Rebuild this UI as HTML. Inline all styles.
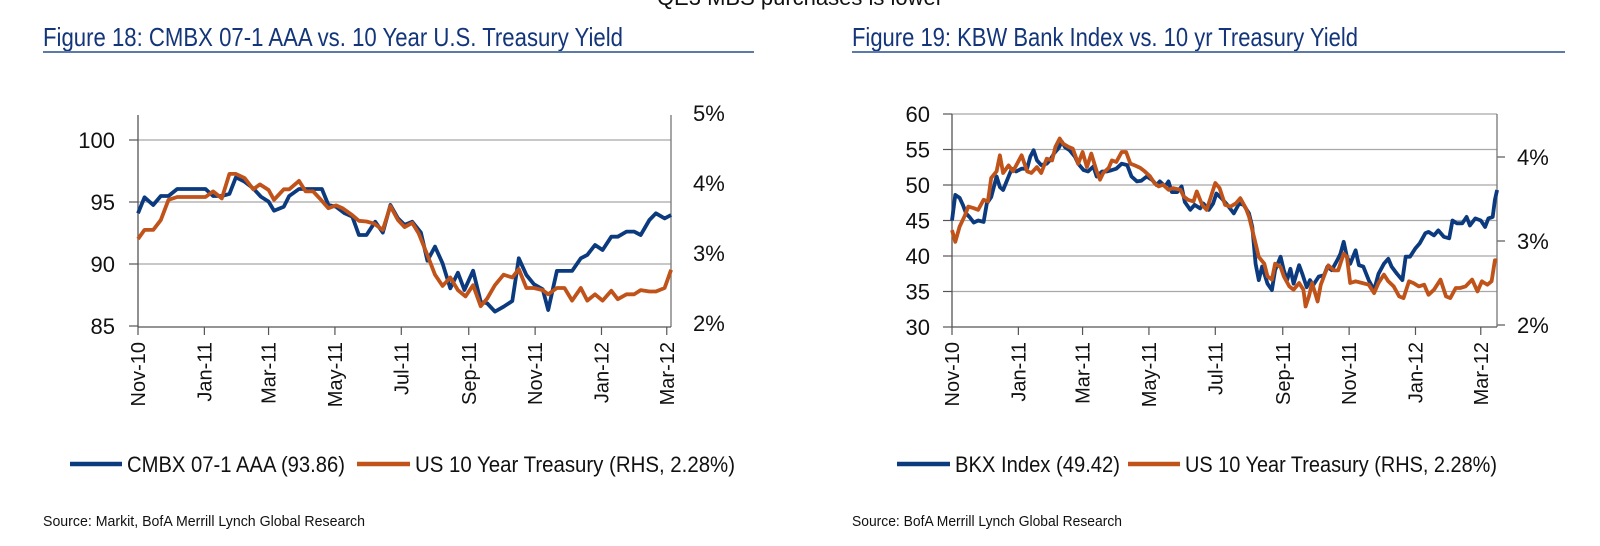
<!DOCTYPE html>
<html><head><meta charset="utf-8"><style>
html,body{margin:0;padding:0;background:#fff;}
svg{display:block;font-family:"Liberation Sans",Arial,sans-serif;}
</style></head><body>
<svg id="c" width="1600" height="546" viewBox="0 0 1600 546" xmlns="http://www.w3.org/2000/svg">
<text x="800" y="5" text-anchor="middle" font-size="22" fill="#111">QE3 MBS purchases is lower</text>
<text x="43" y="46" font-size="26" fill="#13357a" textLength="580" lengthAdjust="spacingAndGlyphs">Figure 18: CMBX 07-1 AAA vs. 10 Year U.S. Treasury Yield</text>
<line x1="43" y1="52" x2="754" y2="52" stroke="#5a7aa8" stroke-width="2"/>
<text x="852" y="46" font-size="26" fill="#13357a" textLength="506" lengthAdjust="spacingAndGlyphs">Figure 19: KBW Bank Index vs. 10 yr Treasury Yield</text>
<line x1="852" y1="52" x2="1565" y2="52" stroke="#5a7aa8" stroke-width="2"/>
<g id="left"></g>
<g id="right"></g>
<line x1="70" y1="464" x2="122" y2="464" stroke="#0b3a7e" stroke-width="4.5"/>
<text x="127" y="472" font-size="22" fill="#111" textLength="218" lengthAdjust="spacingAndGlyphs">CMBX 07-1 AAA (93.86)</text>
<line x1="357" y1="464" x2="410" y2="464" stroke="#c0531a" stroke-width="4.5"/>
<text x="415" y="472" font-size="22" fill="#111" textLength="320" lengthAdjust="spacingAndGlyphs">US 10 Year Treasury (RHS, 2.28%)</text>
<line x1="897" y1="464" x2="950" y2="464" stroke="#0b3a7e" stroke-width="4.5"/>
<text x="955" y="472" font-size="22" fill="#111" textLength="165" lengthAdjust="spacingAndGlyphs">BKX Index (49.42)</text>
<line x1="1128" y1="464" x2="1180" y2="464" stroke="#c0531a" stroke-width="4.5"/>
<text x="1185" y="472" font-size="22" fill="#111" textLength="312" lengthAdjust="spacingAndGlyphs">US 10 Year Treasury (RHS, 2.28%)</text>
<text x="43" y="526" font-size="15" fill="#111" textLength="322" lengthAdjust="spacingAndGlyphs">Source: Markit, BofA Merrill Lynch Global Research</text>
<text x="852" y="526" font-size="15" fill="#111" textLength="270" lengthAdjust="spacingAndGlyphs">Source: BofA Merrill Lynch Global Research</text>
</svg>
<script>
// ---- shared ----
const tickLabels = ["Nov-10","Jan-11","Mar-11","May-11","Jul-11","Sep-11","Nov-11","Jan-12","Mar-12"];
const tickDays = [0,61,120,181,242,304,365,426,486];
// ---- Figure 18 data (days since 1-Nov-2010) ----
const cmbxDays = [0,6,14,21,28,36,62,69,77,84,90,98,106,113,120,125,134,139,148,169,175,182,190,197,203,210,218,225,232,239,245,252,260,266,273,280,287,294,300,308,315,321,328,336,344,350,357,364,372,377,385,399,407,413,420,427,435,441,449,456,462,470,476,484,490];
const cmbxValues = [94.09,95.38,94.76,95.48,95.48,96.05,96.05,95.48,95.48,95.65,96.99,96.64,96.10,95.43,95.03,94.30,94.62,95.48,96.05,96.05,94.76,94.62,94.09,93.82,92.34,92.34,93.41,92.53,94.76,93.68,93.15,93.41,92.53,90.27,91.40,90.05,88.04,89.30,87.90,89.46,86.96,86.83,86.16,86.56,87.02,90.46,89.11,88.36,87.96,86.29,89.44,89.44,90.46,90.73,91.53,91.13,92.20,92.20,92.61,92.61,92.34,93.55,94.09,93.68,93.95];
const ust1Days = [0,6,14,21,28,36,62,69,77,84,90,98,106,112,120,125,134,139,148,154,161,167,175,182,188,197,203,210,217,225,232,239,245,252,258,266,273,280,287,294,301,308,315,321,328,336,344,350,357,364,372,377,385,392,399,407,413,420,427,435,441,449,456,462,470,476,484,490];
const ust1Values = [3.20,3.33,3.33,3.47,3.76,3.80,3.80,3.88,3.78,4.13,4.13,4.07,3.91,3.98,3.90,3.76,3.91,3.91,4.03,3.88,3.88,3.78,3.64,3.68,3.64,3.54,3.46,3.45,3.42,3.33,3.67,3.47,3.37,3.43,3.28,2.97,2.69,2.53,2.65,2.47,2.38,2.54,2.24,2.35,2.54,2.69,2.65,2.77,2.50,2.50,2.47,2.41,2.50,2.50,2.32,2.50,2.32,2.41,2.32,2.46,2.34,2.41,2.41,2.47,2.45,2.45,2.50,2.76];
const leftAxisTicks = [85,90,95,100];
const leftRhsTicks = [2,3,4,5];
// ---- Figure 19 data ----
const bkxDays = [0,3,7,10,13,16,20,24,29,32,36,41,44,47,52,55,59,64,69,72,75,78,82,87,90,94,98,101,104,108,113,116,121,125,130,133,138,142,147,151,156,161,165,170,174,179,184,188,191,196,199,202,207,211,214,219,223,228,231,236,240,243,248,253,259,264,268,273,276,279,282,285,290,294,297,302,305,308,311,314,319,322,326,329,332,337,342,345,349,354,357,360,363,366,371,374,378,383,388,392,397,401,404,409,414,417,421,426,430,435,438,443,447,452,457,460,464,469,473,476,481,486,490,493,497,499,501];
const bkxValues = [45.0,48.6,48.2,47.2,46.0,45.5,44.7,45.0,44.8,47.4,48.3,51.2,49.7,49.3,51.2,52.3,51.9,52.3,52.3,54.0,54.9,53.5,52.8,53.0,53.5,54.5,55.2,56.1,55.3,54.9,54.0,53.0,52.1,51.9,52.6,51.2,51.9,51.9,52.1,52.3,53.0,52.8,51.2,50.5,50.6,51.2,50.7,50.0,50.5,49.8,50.5,49.0,49.0,49.8,47.6,46.5,47.2,46.7,47.4,46.5,47.4,48.8,48.1,47.2,46.0,47.4,47.2,46.0,44.1,38.9,36.6,38.5,36.1,35.2,38.0,39.9,38.0,36.6,38.2,36.1,38.7,37.5,35.6,36.6,35.9,37.1,37.3,38.5,38.0,39.4,40.3,42.0,39.9,38.9,40.8,38.7,38.5,36.6,35.2,37.5,38.9,39.6,38.5,37.5,36.6,39.9,39.9,41.1,41.8,43.2,43.4,42.9,43.6,42.7,42.5,45.0,44.6,44.6,45.5,44.3,45.3,45.0,44.1,45.3,45.5,47.9,49.3];
const ust2Days = [0,3,7,12,15,20,24,29,33,36,41,44,47,52,56,59,64,69,73,78,82,87,92,95,99,102,107,111,116,120,124,128,133,136,139,144,147,151,156,160,164,168,173,177,182,186,190,194,199,203,210,213,217,222,225,230,234,237,242,246,251,256,261,265,270,273,276,279,282,287,290,294,297,302,305,310,314,319,323,325,328,331,336,339,343,346,351,355,360,363,366,371,377,383,388,392,397,401,406,411,415,420,424,429,434,438,443,449,454,458,463,467,472,478,483,487,492,496,499,501];
const ust2Values = [3.13,2.99,3.17,3.31,3.41,3.39,3.37,3.49,3.47,3.75,3.83,4.02,3.81,3.90,3.83,3.90,4.02,3.83,3.81,3.88,3.81,3.98,3.96,4.12,4.22,4.16,4.12,4.10,3.92,4.06,3.88,4.04,3.83,3.73,3.81,3.87,3.96,3.94,4.06,4.06,3.92,3.90,3.87,3.83,3.77,3.69,3.65,3.67,3.61,3.63,3.61,3.53,3.49,3.47,3.59,3.43,3.37,3.49,3.69,3.63,3.43,3.41,3.45,3.51,3.39,3.29,3.13,2.97,2.81,2.73,2.58,2.54,2.73,2.69,2.58,2.46,2.42,2.50,2.42,2.22,2.34,2.50,2.28,2.48,2.62,2.71,2.65,2.65,2.85,2.81,2.50,2.52,2.50,2.48,2.38,2.50,2.60,2.52,2.46,2.34,2.32,2.52,2.50,2.46,2.48,2.36,2.42,2.54,2.34,2.32,2.44,2.44,2.46,2.54,2.40,2.52,2.48,2.52,2.77,2.77];
const rightAxisTicks = [30,35,40,45,50,55,60];
const rightRhsTicks = [2,3,4];

const NS = "http://www.w3.org/2000/svg";
function mk(parent, tag, attrs, txt){
  const e = document.createElementNS(NS, tag);
  for (const k in attrs) e.setAttribute(k, attrs[k]);
  if (txt !== undefined) e.textContent = txt;
  parent.appendChild(e); return e;
}
function linePath(days, vals, xf, yf){
  return days.map((d,i)=>(i?"L":"M")+xf(d).toFixed(1)+","+yf(vals[i]).toFixed(1)).join(" ");
}

// ---- Figure 18 ----
(function(){
  const g = document.getElementById("left");
  const L=138, R=671, T=115, B=327, pxPerDay=1.088;
  const x = d => L + d*pxPerDay;
  const y = v => 140 + (100 - v)*12.4;
  const y2 = p => 113 + (5 - p)*70;
  leftAxisTicks.forEach(v=>{
    if (v>85){
      const gl = mk(g,"line",{x1:L,y1:y(v),x2:R,y2:y(v),stroke:"#a8a8a8","stroke-width":1.2});
      
      
    }
    const tk = mk(g,"line",{x1:L-9,y1:y(v),x2:L,y2:y(v),stroke:"#555","stroke-width":1.2});
    
    
    const t = mk(g,"text",{x:115,y:y(v)+8,"text-anchor":"end","font-size":22,fill:"#111"},String(v));
    
    
  });
  leftRhsTicks.forEach(p=>{
    const t = mk(g,"text",{x:693,y:y2(p)+8,"font-size":22,fill:"#111"},p+"%");
    
    
  });
  const ax = mk(g,"line",{x1:L,y1:T,x2:L,y2:B,stroke:"#555","stroke-width":1.3});
  
  
  const ax2 = mk(g,"line",{x1:R,y1:T,x2:R,y2:B,stroke:"#777","stroke-width":1.3});
  
  
  const xb = mk(g,"line",{x1:L,y1:B,x2:R,y2:B,stroke:"#555","stroke-width":1.3});
  
  
  tickDays.forEach((d,i)=>{
    const tk = mk(g,"line",{x1:x(d),y1:B,x2:x(d),y2:B+8,stroke:"#555","stroke-width":1.2});
    
    
    const t = mk(g,"text",{x:0,y:0,"text-anchor":"end","font-size":20,fill:"#111",transform:`translate(${x(d)+7},342) rotate(-90)`},tickLabels[i]);
    
    
  });
  const s1 = mk(g,"path",{d:linePath(cmbxDays,cmbxValues,x,y),fill:"none",stroke:"#0b3a7e","stroke-width":3.8,"stroke-linejoin":"round"});
  
  
  const s2 = mk(g,"path",{d:linePath(ust1Days,ust1Values,x,y2),fill:"none",stroke:"#c0531a","stroke-width":3.8,"stroke-linejoin":"round"});
  
  
})();

// ---- Figure 19 ----
(function(){
  const g = document.getElementById("right");
  const L=952, R=1497, T=114, B=327, pxPerDay=1.088;
  const x = d => L + d*pxPerDay;
  const y = v => 114 + (60 - v)*7.1;
  const y2 = p => 157 + (4 - p)*84;
  rightAxisTicks.forEach(v=>{
    if (v>30){
      const gl = mk(g,"line",{x1:L,y1:y(v),x2:R,y2:y(v),stroke:"#a8a8a8","stroke-width":1.2});
      
      
    }
    const tk = mk(g,"line",{x1:L-9,y1:y(v),x2:L,y2:y(v),stroke:"#555","stroke-width":1.2});
    
    
    const t = mk(g,"text",{x:930,y:y(v)+8,"text-anchor":"end","font-size":22,fill:"#111"},String(v));
    
    
  });
  rightRhsTicks.forEach(p=>{
    const tk = mk(g,"line",{x1:R,y1:y2(p),x2:R+8,y2:y2(p),stroke:"#555","stroke-width":1.2});
    
    
    const t = mk(g,"text",{x:1517,y:y2(p)+8,"font-size":22,fill:"#111"},p+"%");
    
    
  });
  const ax = mk(g,"line",{x1:L,y1:T,x2:L,y2:B,stroke:"#555","stroke-width":1.3});
  
  
  const ax2 = mk(g,"line",{x1:R,y1:T,x2:R,y2:B,stroke:"#777","stroke-width":1.3});
  
  
  const xb = mk(g,"line",{x1:L,y1:B,x2:R,y2:B,stroke:"#555","stroke-width":1.3});
  
  
  tickDays.forEach((d,i)=>{
    const tk = mk(g,"line",{x1:x(d),y1:B,x2:x(d),y2:B+8,stroke:"#555","stroke-width":1.2});
    
    
    const t = mk(g,"text",{x:0,y:0,"text-anchor":"end","font-size":20,fill:"#111",transform:`translate(${x(d)+7},342) rotate(-90)`},tickLabels[i]);
    
    
  });
  const s1 = mk(g,"path",{d:linePath(bkxDays,bkxValues,x,y),fill:"none",stroke:"#0b3a7e","stroke-width":3.8,"stroke-linejoin":"round"});
  
  
  const s2 = mk(g,"path",{d:linePath(ust2Days,ust2Values,x,y2),fill:"none",stroke:"#c0531a","stroke-width":3.8,"stroke-linejoin":"round"});
  
  
})();
</script>
</body></html>
